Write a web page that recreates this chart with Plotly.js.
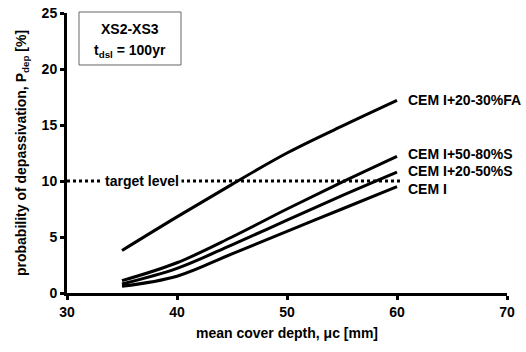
<!DOCTYPE html>
<html>
<head>
<meta charset="utf-8">
<script src="https://cdn.plot.ly/plotly-3.0.1.min.js"></script>
<style>html,body{margin:0;padding:0;background:#fff;}#chart{width:526px;height:352px;}</style>
</head>
<body>
<div id="chart"></div>
<script>
const coverDepth = [35, 40, 45, 50, 55, 60];
const cemFA = [3.8, 6.8, 9.7, 12.5, 14.9, 17.2];
const cemS5080 = [1.1, 2.7, 5.0, 7.5, 9.9, 12.2];
const cemS2050 = [0.8, 2.2, 4.3, 6.5, 8.7, 10.8];
const cemI = [0.6, 1.5, 3.5, 5.5, 7.5, 9.5];
const seriesNames = ["CEM I+20-30%FA", "CEM I+50-80%S", "CEM I+20-50%S", "CEM I"];
const seriesValues = [cemFA, cemS5080, cemS2050, cemI];
const labelY = [17.2, 12.4, 10.9, 9.3];
const targetLevel = 10;
const targetX = [30, 60.5];
const xTicks = [30, 40, 50, 60, 70];
const yTicks = [0, 5, 10, 15, 20, 25];

const FONT = "Liberation Sans, Arial, sans-serif";
const traces = seriesValues.map((v, i) => ({
  x: coverDepth, y: v, mode: "lines", type: "scatter",
  line: {color: "#000", width: 3, shape: "spline", smoothing: 1},
  name: seriesNames[i], showlegend: false, hoverinfo: "skip"
}));
traces.push({
  x: targetX, y: [targetLevel, targetLevel], mode: "lines", type: "scatter",
  line: {color: "#000", width: 3, dash: "dot"}, showlegend: false, hoverinfo: "skip"
});

const annotations = seriesNames.map((n, i) => ({
  x: 60.8, y: labelY[i], xref: "x", yref: "y", text: "<b>" + n + "</b>",
  showarrow: false, xanchor: "left", yanchor: "middle",
  font: {family: FONT, size: 14, color: "#000"}
}));
annotations.push({
  x: 36.8, y: targetLevel, xref: "x", yref: "y", text: "<b>target level</b>",
  showarrow: false, xanchor: "center", yanchor: "middle", bgcolor: "#fff",
  borderpad: 2, font: {family: FONT, size: 14, color: "#000"}
});
annotations.push({
  x: 35.75, y: 23.6, xref: "x", yref: "y", xanchor: "center", yanchor: "middle",
  text: "<b>XS2-XS3</b>", showarrow: false,
  font: {family: FONT, size: 14, color: "#000"}
});
annotations.push({
  x: 35.75, y: 21.6, xref: "x", yref: "y", xanchor: "center", yanchor: "middle",
  text: "<b>t<sub>dsl</sub> = 100yr</b>", showarrow: false,
  font: {family: FONT, size: 14, color: "#000"}
});

const layout = {
  width: 526, height: 352,
  margin: {l: 67, r: 19, t: 13, b: 59},
  paper_bgcolor: "#fff", plot_bgcolor: "#fff",
  showlegend: false,
  shapes: [{
    type: "rect", xref: "paper", yref: "paper",
    x0: 0.0273, x1: 0.2591, y0: 0.8143, y1: 1.0036,
    line: {color: "#666", width: 1}, fillcolor: "rgba(0,0,0,0)"
  }],
  xaxis: {
    range: [30, 70], tickvals: xTicks, ticktext: xTicks.map(String),
    showgrid: false, zeroline: false, showline: true, linecolor: "#000", linewidth: 3,
    ticks: "outside", ticklen: 4, tickwidth: 3, tickcolor: "#000",
    tickfont: {family: FONT, size: 14, color: "#000", weight: "bold"},
    title: {text: "<b>mean cover depth, \u03bcc [mm]</b>", standoff: 10,
      font: {family: FONT, size: 14, color: "#000"}}
  },
  yaxis: {
    range: [0, 25], tickvals: yTicks, ticktext: yTicks.map(String),
    showgrid: false, zeroline: false, showline: true, linecolor: "#000", linewidth: 3,
    ticks: "outside", ticklen: 4, tickwidth: 3, tickcolor: "#000",
    tickfont: {family: FONT, size: 14, color: "#000", weight: "bold"},
    title: {text: "<b>probability of depassivation, P<sub>dep</sub> [%]</b>", standoff: 12,
      font: {family: FONT, size: 14, color: "#000"}}
  },
  annotations: annotations
};
Plotly.newPlot("chart", traces, layout, {staticPlot: true, displayModeBar: false});
</script>
</body>
</html>
